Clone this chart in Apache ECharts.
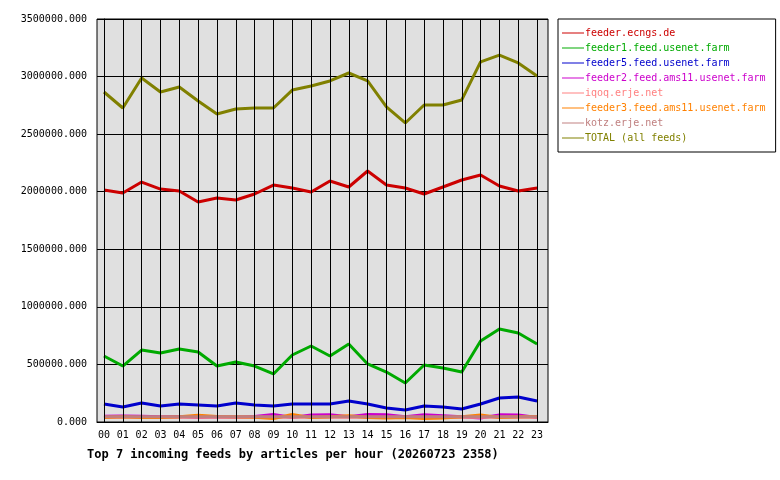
<!DOCTYPE html><html><head><meta charset="utf-8"><script src="https://cdn.jsdelivr.net/npm/echarts@6/dist/echarts.min.js"></script></head><body style="margin:0;background:#fff"><div id="c" style="width:780px;height:480px"></div><script>
const hours=['00','01','02','03','04','05','06','07','08','09','10','11','12','13','14','15','16','17','18','19','20','21','22','23'];
const names=['feeder.ecngs.de','feeder1.feed.usenet.farm','feeder5.feed.usenet.farm','feeder2.feed.ams11.usenet.farm','iqoq.erje.net','feeder3.feed.ams11.usenet.farm','kotz.erje.net','TOTAL (all feeds)'];
const colors=['#cc0000','#00aa00','#0000cc','#cc00cc','#ff8080','#ff8000','#c08080','#808000'];
const ecngs=[2015000,1989000,2084000,2023000,2006000,1910000,1945000,1928000,1980000,2058000,2032000,1997000,2093000,2041000,2180000,2058000,2032000,1980000,2041000,2102000,2145000,2050000,2006000,2032000];
const feeder1=[573000,486000,625000,599000,634000,608000,486000,521000,486000,417000,582000,660000,573000,677000,504000,434000,339000,495000,469000,434000,703000,808000,773000,677000];
const feeder5=[156000,130000,165000,139000,156000,148000,139000,165000,148000,139000,156000,156000,156000,182000,156000,122000,104000,139000,130000,113000,156000,208000,217000,182000];
const feeder2=[50000,52000,50000,45000,48000,40000,45000,42000,48000,65000,40000,60000,62000,45000,65000,62000,45000,62000,55000,45000,35000,62000,60000,40000];
const iqoq=[42000,42000,42000,42000,42000,42000,42000,42000,42000,42000,42000,42000,42000,42000,42000,42000,42000,42000,42000,42000,42000,42000,42000,42000];
const feeder3=[40000,45000,38000,40000,45000,58000,48000,45000,42000,30000,65000,38000,45000,55000,40000,35000,40000,30000,35000,45000,60000,40000,45000,48000];
const kotz=[45000,45000,45000,45000,45000,45000,45000,45000,45000,45000,45000,45000,45000,45000,45000,45000,45000,45000,45000,45000,45000,45000,45000,45000];
const total=[2866000,2727000,2988000,2866000,2910000,2788000,2675000,2718000,2727000,2727000,2883000,2918000,2962000,3031000,2962000,2736000,2597000,2753000,2753000,2797000,3127000,3187000,3118000,3005000];
const all=[ecngs,feeder1,feeder5,feeder2,iqoq,feeder3,kotz,total];
const font='DejaVu Sans Mono';
const idx=hours.map((h,i)=>i);
const ch=echarts.init(document.getElementById('c'));
const series=names.map((n,i)=>({name:n,type:'line',data:all[i].map((v,j)=>[j,v]),symbol:'none',color:colors[i],lineStyle:{width:3,color:colors[i]},z:3}));
series.unshift({type:'line',data:[],silent:true,z:1,markLine:{silent:true,symbol:'none',label:{show:false},lineStyle:{color:'#000',width:1,type:'solid'},data:idx.map(i=>({xAxis:i}))}});
ch.setOption({
 animation:false,
 textStyle:{fontFamily:font},
 title:{text:'Top 7 incoming feeds by articles per hour (20260723 2358)',left:82,top:444,textStyle:{fontFamily:font,fontSize:12,fontWeight:'bold',color:'#000'}},
 legend:{orient:'vertical',left:558,top:19,width:207,padding:[9,10,9,4],borderColor:'#000',borderWidth:1,itemGap:5,itemWidth:22,itemHeight:10,icon:'path://M0,4L22,4L22,5L0,5Z',
   data:names.map((n,i)=>({name:n,textStyle:{color:colors[i]}})),textStyle:{fontFamily:font,fontSize:10,padding:[0,0,0,-4]}},
 grid:{left:97,top:19,right:232,bottom:58,show:true,backgroundColor:'#e0e0e0',borderColor:'#000',borderWidth:1},
 xAxis:{type:'value',min:-0.37,max:23.58,axisLine:{lineStyle:{color:'#000'}},axisTick:{show:false},splitLine:{show:false},
   axisLabel:{color:'#000',fontFamily:font,fontSize:10,customValues:idx,formatter:v=>hours[Math.round(v)]}},
 yAxis:{type:'value',min:0,max:3500000,interval:500000,axisLine:{show:true,lineStyle:{color:'#000'}},axisTick:{show:true,length:5,lineStyle:{color:'#000'}},
   axisLabel:{color:'#000',fontFamily:font,fontSize:10,margin:10,formatter:v=>v.toFixed(3)},splitLine:{lineStyle:{color:'#000'}}},
 series:series
});
</script></body></html>
